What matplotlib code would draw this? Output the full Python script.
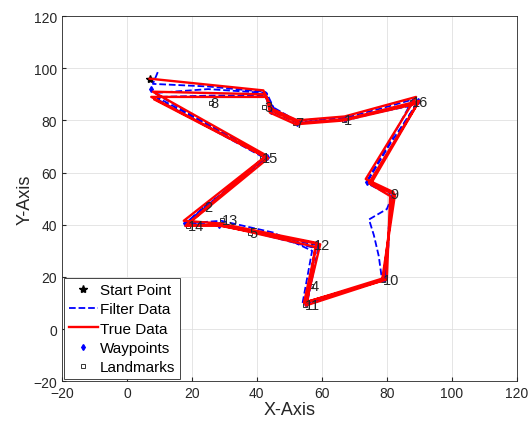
import matplotlib
matplotlib.use("Agg")
import matplotlib.pyplot as plt

plt.rcParams['font.family'] = ['Liberation Sans', 'DejaVu Sans']

# True trajectory, three laps around the course
true_x = [7.0, 42.0, 44.5, 52.5, 67.0, 89.0, 73.5, 82.0, 79.0, 54.5, 58.5, 28.5, 17.5, 43.0,
          8.0, 42.5, 45.0, 53.0, 67.5, 90.0, 74.5, 82.5, 78.5, 55.0, 59.5, 29.0, 18.5, 43.5,
          7.5, 43.0, 44.0, 52.0, 67.0, 89.5, 75.0, 81.0, 80.0, 55.5, 58.0, 28.0, 18.0, 42.5, 8.5]
true_y = [96.0, 91.5, 84.5, 80.0, 81.5, 89.0, 57.5, 52.5, 19.5, 10.0, 33.0, 40.5, 41.5, 66.5,
          91.0, 90.0, 83.5, 79.0, 80.5, 87.5, 56.0, 51.5, 18.5, 9.0, 32.5, 39.5, 40.0, 65.5,
          89.0, 89.0, 83.0, 78.5, 80.0, 86.5, 55.5, 51.0, 19.0, 10.5, 31.5, 40.0, 39.5, 66.0, 88.0]

# Filter estimate of the same laps
filt_x = [9.5, 8.0, 25.0, 42.0, 45.0, 52.0, 60.0, 67.0, 78.0, 88.0, 81.0, 74.0, 82.0, 80.0,
          74.5, 76.0, 77.5, 78.5, 66.0, 54.0, 57.0, 45.0, 29.0, 18.0, 24.0, 34.0, 43.0,
          8.5, 25.0, 43.0, 45.5, 53.0, 67.5, 89.5, 81.0, 74.0, 82.5, 81.0, 80.5, 80.5, 79.5,
          55.0, 58.0, 30.0, 18.5, 43.0, 9.0, 26.0, 42.5, 44.5, 52.5, 67.0, 89.0, 74.5, 81.5,
          79.5, 55.5, 59.0, 28.5, 18.0, 42.5, 8.0]
filt_y = [98.5, 94.0, 93.0, 91.0, 85.0, 80.0, 80.5, 81.0, 84.5, 88.0, 72.0, 57.0, 52.0, 46.0,
          42.0, 36.0, 28.0, 19.0, 14.0, 9.5, 30.0, 37.0, 41.5, 40.5, 47.0, 56.0, 65.5,
          90.5, 92.0, 90.5, 84.0, 79.5, 80.0, 87.0, 71.0, 56.5, 51.5, 45.0, 38.0, 32.0, 19.5,
          9.0, 31.0, 40.0, 40.0, 66.0, 89.0, 89.5, 89.5, 83.5, 79.0, 80.5, 86.0, 55.5, 51.0,
          19.0, 10.0, 32.0, 40.0, 40.5, 65.5, 89.0]

# Waypoints at the course corners
way_x = [7.5, 42.5, 44.5, 52.5, 67.0, 89.5, 74.0, 82.0, 79.0, 55.0, 58.5, 28.5, 18.0, 43.0]
way_y = [92.0, 90.0, 83.5, 79.0, 80.5, 87.5, 56.5, 51.5, 19.0, 10.0, 32.5, 40.0, 40.5, 66.0]

# Labelled landmarks
lm_ids = [1, 2, 3, 4, 5, 7, 8, 9, 10, 11, 12, 13, 14, 15, 16]
lm_x = [66.8, 23.7, 42.2, 56.6, 37.8, 51.7, 25.8, 81.2, 78.8, 54.8, 57.5, 29.2, 18.8, 41.5, 87.8]
lm_y = [80.0, 46.8, 85.0, 16.5, 36.8, 79.0, 86.7, 51.8, 18.8, 9.2, 32.2, 41.8, 39.5, 65.6, 87.2]

start_x, start_y = true_x[0], true_y[0]

fig = plt.figure(figsize=(5.29, 4.27), dpi=100)
ax = fig.add_axes([0.117, 0.105, 0.86, 0.855])

ax.plot(start_x, start_y, 'k*', markersize=6, label='Start Point', zorder=1)
ax.plot(filt_x, filt_y, '--', color='b', linewidth=1.3, label='Filter Data', zorder=2)
ax.plot(true_x, true_y, '-', color='r', linewidth=1.7, label='True Data', zorder=3)
ax.plot(way_x, way_y, 'bd', markersize=3, label='Waypoints', zorder=2.5)
ax.plot(lm_x, lm_y, 's', color='0.2', markerfacecolor='none', markersize=3,
        markeredgewidth=0.7, label='Landmarks', zorder=2.8)
for n, x, y in zip(lm_ids, lm_x, lm_y):
    ax.text(x, y, str(n), fontsize=10.5, color='0.15', ha='left', va='center', zorder=5)

ax.set_xlim(-20, 120)
ax.set_ylim(-20, 120)
ax.set_xticks(range(-20, 121, 20))
ax.set_yticks(range(-20, 121, 20))
ax.grid(True, color='0.88', linewidth=0.6)
ax.set_axisbelow(True)
ax.tick_params(labelsize=10, colors='0.15', direction='in', length=3)
for s in ax.spines.values():
    s.set_color('0.15')
    s.set_linewidth(0.6)
ax.set_xlabel('X-Axis', fontsize=13, color='0.15', labelpad=1)
ax.set_ylabel('Y-Axis', fontsize=13, color='0.15', labelpad=0)

leg = ax.legend(loc='lower left', fontsize=11, handlelength=1.9, handletextpad=0.15,
                borderpad=0.3, labelspacing=0.35, borderaxespad=0.15, fancybox=False,
                framealpha=1, edgecolor='0.15')
leg.get_frame().set_linewidth(0.6)

fig.savefig('out.png', dpi=100)
